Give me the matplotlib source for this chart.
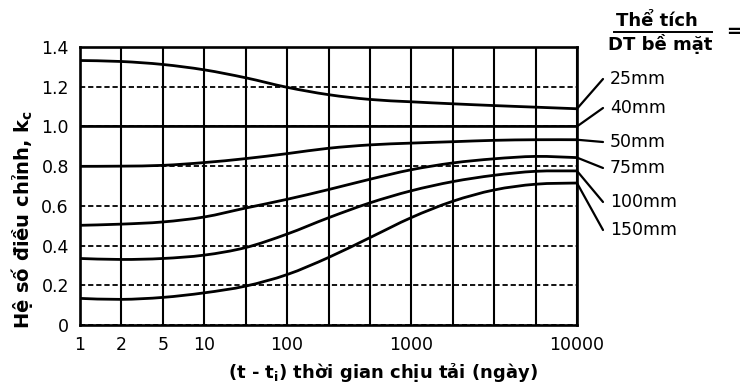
import numpy as np
import matplotlib
matplotlib.use("Agg")
import matplotlib.pyplot as plt
from matplotlib.path import Path
from matplotlib.patches import PathPatch
from matplotlib.ticker import FixedLocator, FixedFormatter, NullFormatter

plt.rcParams["font.family"] = ["DejaVu Sans"]

# Grid columns of the time axis (days); the axis is stretched piecewise between them
grid_days = [1, 2, 5, 10, 31.6, 100, 215, 464, 1000, 1778, 3162, 5623, 10000]
tick_days = [1, 2, 5, 10, 100, 1000, 10000]
tick_labels = ["1", "2", "5", "10", "100", "1000", "10000"]

y_ticks = [0, 0.2, 0.4, 0.6, 0.8, 1.0, 1.2, 1.4]
y_tick_labels = ["0", "0.2", "0.4", "0.6", "0.8", "1.0", "1.2", "1.4"]

# Correction factor k_c read at each grid column, per volume/surface ratio
series_names = ["25mm", "40mm", "50mm", "75mm", "100mm", "150mm"]
kc_25 = [1.332, 1.327, 1.312, 1.285, 1.245, 1.197, 1.160, 1.136, 1.124, 1.114, 1.105, 1.097, 1.089]
kc_40 = [1.0, 1.0, 1.0, 1.0, 1.0, 1.0, 1.0, 1.0, 1.0, 1.0, 1.0, 1.0, 1.0]
kc_50 = [0.799, 0.800, 0.804, 0.818, 0.838, 0.863, 0.890, 0.907, 0.916, 0.923, 0.930, 0.933, 0.933]
kc_75 = [0.502, 0.508, 0.519, 0.544, 0.589, 0.633, 0.682, 0.734, 0.782, 0.816, 0.837, 0.849, 0.843]
kc_100 = [0.335, 0.330, 0.335, 0.352, 0.390, 0.458, 0.540, 0.615, 0.676, 0.722, 0.754, 0.774, 0.776]
kc_150 = [0.134, 0.129, 0.139, 0.162, 0.196, 0.254, 0.340, 0.440, 0.541, 0.623, 0.680, 0.709, 0.715]
all_series = [kc_25, kc_40, kc_50, kc_75, kc_100, kc_150]

# Label anchor positions (figure pixels from top) for the right-hand legend
label_y_px = [79, 108, 142, 168, 202, 230]

W, H = 740, 392
DPI = 100

log_knots = np.log10(grid_days)
pos_knots = np.arange(len(grid_days), dtype=float)


def forward(x):
    lx = np.log10(np.clip(np.asarray(x, dtype=float), 1e-12, None))
    y = np.interp(lx, log_knots, pos_knots)
    lo_slope = (pos_knots[1] - pos_knots[0]) / (log_knots[1] - log_knots[0])
    hi_slope = (pos_knots[-1] - pos_knots[-2]) / (log_knots[-1] - log_knots[-2])
    y = np.where(lx < log_knots[0], pos_knots[0] + (lx - log_knots[0]) * lo_slope, y)
    y = np.where(lx > log_knots[-1], pos_knots[-1] + (lx - log_knots[-1]) * hi_slope, y)
    return y


def inverse(p):
    p = np.asarray(p, dtype=float)
    lx = np.interp(p, pos_knots, log_knots)
    lo_slope = (log_knots[1] - log_knots[0]) / (pos_knots[1] - pos_knots[0])
    hi_slope = (log_knots[-1] - log_knots[-2]) / (pos_knots[-1] - pos_knots[-2])
    lx = np.where(p < pos_knots[0], log_knots[0] + (p - pos_knots[0]) * lo_slope, lx)
    lx = np.where(p > pos_knots[-1], log_knots[-1] + (p - pos_knots[-1]) * hi_slope, lx)
    return 10 ** lx


def smooth_path(xs, ys):
    """Catmull-Rom curve through the points, built as cubic Bezier segments.

    Control points are computed on the scaled axis and mapped back to days so
    that the axis transform places them where the curve needs them."""
    px = forward(xs)
    py = np.asarray(ys, dtype=float)
    n = len(px)
    verts = [(xs[0], py[0])]
    codes = [Path.MOVETO]
    for i in range(n - 1):
        i0 = max(i - 1, 0)
        i3 = min(i + 2, n - 1)
        c1x = px[i] + (px[i + 1] - px[i0]) / 6.0
        c1y = py[i] + (py[i + 1] - py[i0]) / 6.0
        c2x = px[i + 1] - (px[i3] - px[i]) / 6.0
        c2y = py[i + 1] - (py[i3] - py[i]) / 6.0
        verts += [(float(inverse(c1x)), c1y), (float(inverse(c2x)), c2y),
                  (xs[i + 1], py[i + 1])]
        codes += [Path.CURVE4] * 3
    return Path(verts, codes)


fig = plt.figure(figsize=(W / DPI, H / DPI), dpi=DPI)
left, right, top, bottom = 80, 577, 47, 325
ax = fig.add_axes([left / W, 1 - bottom / H, (right - left) / W, (bottom - top) / H])

ax.set_xscale("function", functions=(forward, inverse))
ax.set_xlim(1, 10000)
ax.set_ylim(0, 1.4)

ax.xaxis.set_major_locator(FixedLocator(tick_days))
ax.xaxis.set_major_formatter(FixedFormatter(tick_labels))
ax.xaxis.set_minor_locator(FixedLocator(grid_days))
ax.xaxis.set_minor_formatter(NullFormatter())
ax.xaxis.remove_overlapping_locs = False
ax.yaxis.set_major_locator(FixedLocator(y_ticks))
ax.yaxis.set_major_formatter(FixedFormatter(y_tick_labels))

ax.tick_params(axis="both", which="both", length=0, labelsize=12.5, colors="black")
ax.tick_params(axis="x", pad=8)
ax.tick_params(axis="y", pad=8)

ax.grid(True, axis="x", which="minor", color="black", lw=1.5, ls="-")
ax.grid(True, axis="y", which="major", color="black", lw=1.3, ls=(0, (2.9, 1.6)))
ax.set_axisbelow(True)

for s in ax.spines.values():
    s.set_linewidth(1.9)
    s.set_color("black")

for vals in all_series:
    ax.add_patch(PathPatch(smooth_path(grid_days, vals), fill=False,
                           edgecolor="black", lw=2.0, zorder=3))

# Leader lines and size labels on the right
for name, vals, ypx in zip(series_names, all_series, label_y_px):
    ax.annotate("", xy=(grid_days[-1], vals[-1]), xycoords="data",
                xytext=(603, H - ypx), textcoords="figure pixels",
                arrowprops=dict(arrowstyle="-", lw=1.6, color="black",
                                shrinkA=0, shrinkB=0), annotation_clip=False)
    fig.text(610 / W, 1 - ypx / H, name, ha="left", va="center", fontsize=12.5)

# Volume / surface area ratio heading
fig.text(657 / W, 1 - 21 / H, "Thể tích", ha="center", va="center",
         fontsize=13, fontweight="bold")
fig.add_artist(plt.Line2D([614 / W, 712 / W], [1 - 32 / H, 1 - 32 / H],
                          color="black", lw=1.4))
fig.text(660 / W, 1 - 44 / H, "DT bề mặt", ha="center", va="center",
         fontsize=13, fontweight="bold")
fig.text(734 / W, 1 - 32 / H, "=", ha="center", va="center",
         fontsize=13, fontweight="bold")

fig.text(22 / W, 1 - 219 / H, "Hệ số điều chỉnh, k$_\\mathregular{c}$",
         rotation=90, ha="center", va="center", fontsize=14, fontweight="bold")
fig.text(383 / W, 1 - 372 / H, "(t - t$_\\mathregular{i}$) thời gian chịu tải (ngày)",
         ha="center", va="center", fontsize=13, fontweight="bold")

fig.savefig("out.png", dpi=DPI)
